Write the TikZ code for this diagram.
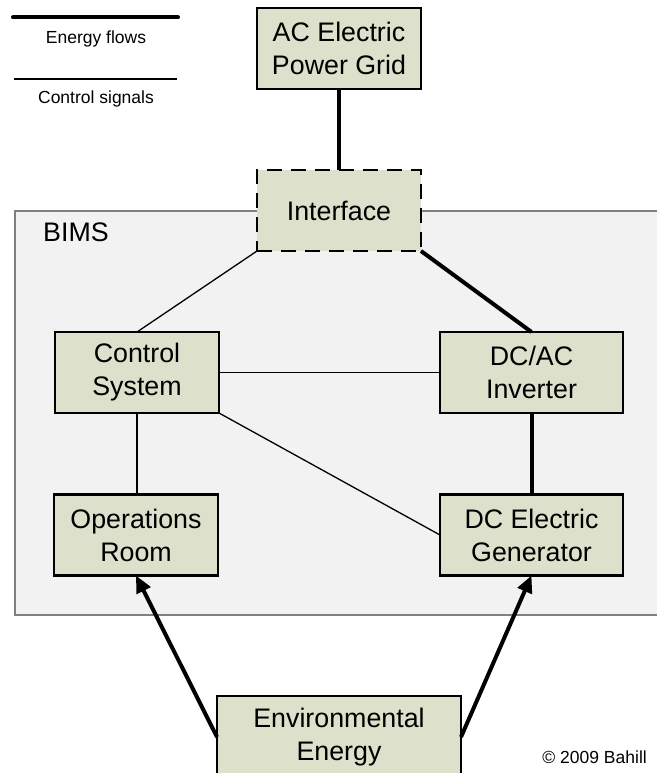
\documentclass[tikz,border=0pt]{standalone}
\usepackage{fontspec}
\setmainfont{Liberation Sans}
\usetikzlibrary{arrows.meta}
\definecolor{boxfill}{RGB}{221,225,204}
\definecolor{bimsfill}{RGB}{242,242,242}
\definecolor{bimsline}{RGB}{128,128,128}
\tikzset{
  blk/.style={draw=black, line width=2.6pt, fill=boxfill, align=center,
    font=\fontsize{26.8}{33}\selectfont, minimum width=164pt, minimum height=81pt,
    inner sep=0pt, outer sep=0pt},
  dashblk/.style={blk, dash pattern=on 15pt off 9pt},
  energy/.style={line width=4pt},
  ctrlsig/.style={line width=1.3pt},
  energyarrow/.style={line width=4pt, -{Triangle[length=17pt,width=15pt]}},
  legendtxt/.style={font=\fontsize{17.5}{21}\selectfont, inner sep=0pt, anchor=base},
}
\begin{document}
\begin{tikzpicture}[x=1pt,y=-1pt]
\useasboundingbox (0,0) rectangle (656,773);
% BIMS boundary
\node[draw=bimsline, line width=1.5pt, fill=bimsfill, minimum width=660pt, minimum height=404pt,
      anchor=north west, inner sep=0pt] (bims) at (14,210) {};
\node[font=\fontsize{26.8}{33}\selectfont, anchor=base west, inner sep=0pt] (bimslbl) at (43,241) {BIMS};
% legend
\coordinate (le1) at (13,17.5);
\coordinate (le2) at (178,17.5);
\draw[energy, line cap=round] (le1) -- (le2);
\node[legendtxt] (legE) at (96,44) {Energy flows};
\coordinate (lc1) at (14,79);
\coordinate (lc2) at (177,79);
\draw[ctrlsig] (lc1) -- (lc2);
\node[legendtxt] (legC) at (96,103.5) {Control signals};
% blocks
\node[blk] (grid) at (339,48.5) {AC Electric\\Power Grid};
\node[dashblk] (iface) at (339,210.5) {Interface};
\node[blk] (ctrl) at (137,372.5) {Control\\System};
\node[blk, minimum width=183pt] (inv) at (531.5,372.5) {DC/AC\\Inverter};
\node[blk] (ops) at (136,535) {Operations\\Room};
\node[blk, minimum width=183pt] (gen) at (531.5,535) {DC Electric\\Generator};
\node[blk, minimum width=244pt, minimum height=82pt] (env) at (339,737) {Environmental\\Energy};
% connectors
\draw[energy] (grid.south) -- (iface.north);
\draw[ctrlsig] (iface.south west) -- (ctrl.north);
\draw[energy] (iface.south east) -- (inv.north);
\draw[ctrlsig] (ctrl.east) -- (inv.west);
\draw[ctrlsig] (ctrl.south) -- (ctrl.south |- ops.north);
\draw[ctrlsig] (ctrl.south east) -- (gen.west);
\draw[energy] (inv.south) -- (gen.north);
\draw[energyarrow] (env.west) -- (ops.south);
\draw[energyarrow] (env.east) -- (gen.south);
% copyright
\node[legendtxt, anchor=base east] (copy) at (647,763) {© 2009 Bahill};
\end{tikzpicture}
\end{document}
